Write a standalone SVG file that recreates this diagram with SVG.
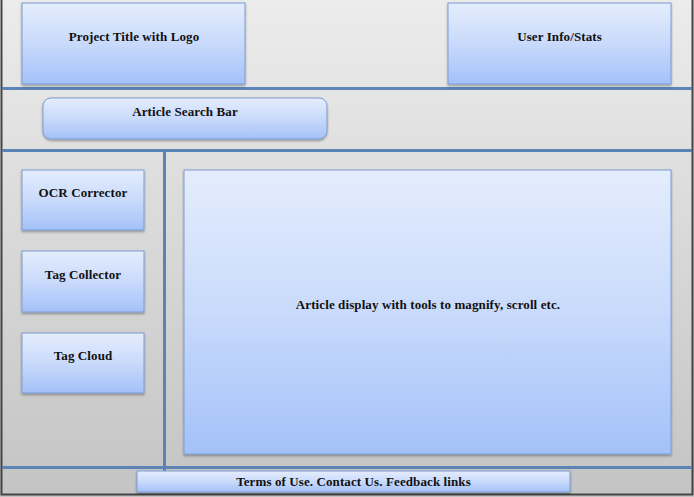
<svg xmlns="http://www.w3.org/2000/svg" width="694" height="497" viewBox="0 0 694 497">
<defs>
<linearGradient id="bg" x1="0" y1="0" x2="0" y2="1">
<stop offset="0" stop-color="#ececec"/>
<stop offset="1" stop-color="#c4c4c4"/>
</linearGradient>
<linearGradient id="box" x1="0" y1="0" x2="0" y2="1">
<stop offset="0" stop-color="#e4edfd"/>
<stop offset="0.5" stop-color="#c9dafb"/>
<stop offset="1" stop-color="#a3c1f8"/>
</linearGradient>
<filter id="sh" x="-5%" y="-5%" width="110%" height="115%">
<feDropShadow dx="0" dy="1.5" stdDeviation="1" flood-color="#000" flood-opacity="0.35"/>
</filter>
</defs>
<style>
.node rect{fill:url(#box);stroke:#7c9dd0;stroke-width:1;filter:url(#sh)}
.node text{font-family:"Liberation Serif","DejaVu Serif",serif;font-weight:bold;font-size:13px;letter-spacing:0.1px;fill:#111;text-anchor:middle}
.div{stroke:#5b83b6;stroke-width:3;fill:none}
</style>
<rect x="0" y="0" width="694" height="497" fill="url(#bg)"/>
<path d="M1.5,0 V494.5 H692.5 V0" fill="none" stroke="#444" stroke-width="2"/>
<g id="connectors">
<line class="div" x1="2" y1="88.5" x2="692" y2="88.5"/>
<line class="div" x1="2" y1="150.5" x2="692" y2="150.5"/>
<line class="div" x1="2" y1="467.5" x2="692" y2="467.5"/>
<line class="div" x1="164.5" y1="150" x2="164.5" y2="474"/>
</g>
<g id="project-title" class="node"><rect x="22" y="3" width="223" height="81"/><text x="134" y="41">Project Title with Logo</text></g>
<g id="user-info" class="node"><rect x="448" y="3" width="223" height="81"/><text x="559.5" y="41">User Info/Stats</text></g>
<g id="search-bar" class="node"><rect x="43" y="98" width="284" height="41" rx="8" ry="8"/><text x="185" y="116">Article Search Bar</text></g>
<g id="ocr-corrector" class="node"><rect x="22" y="170" width="122" height="60"/><text x="83" y="197">OCR Corrector</text></g>
<g id="tag-collector" class="node"><rect x="22" y="251" width="122" height="61"/><text x="83" y="279">Tag Collector</text></g>
<g id="tag-cloud" class="node"><rect x="22" y="333" width="122" height="60"/><text x="83" y="360">Tag Cloud</text></g>
<g id="article-display" class="node"><rect x="184" y="170" width="487" height="284"/><text x="428" y="309">Article display with tools to magnify, scroll etc.</text></g>
<g id="footer" class="node"><rect x="137" y="471" width="433" height="21"/><text x="353.5" y="486">Terms of Use. Contact Us. Feedback links</text></g>
</svg>
